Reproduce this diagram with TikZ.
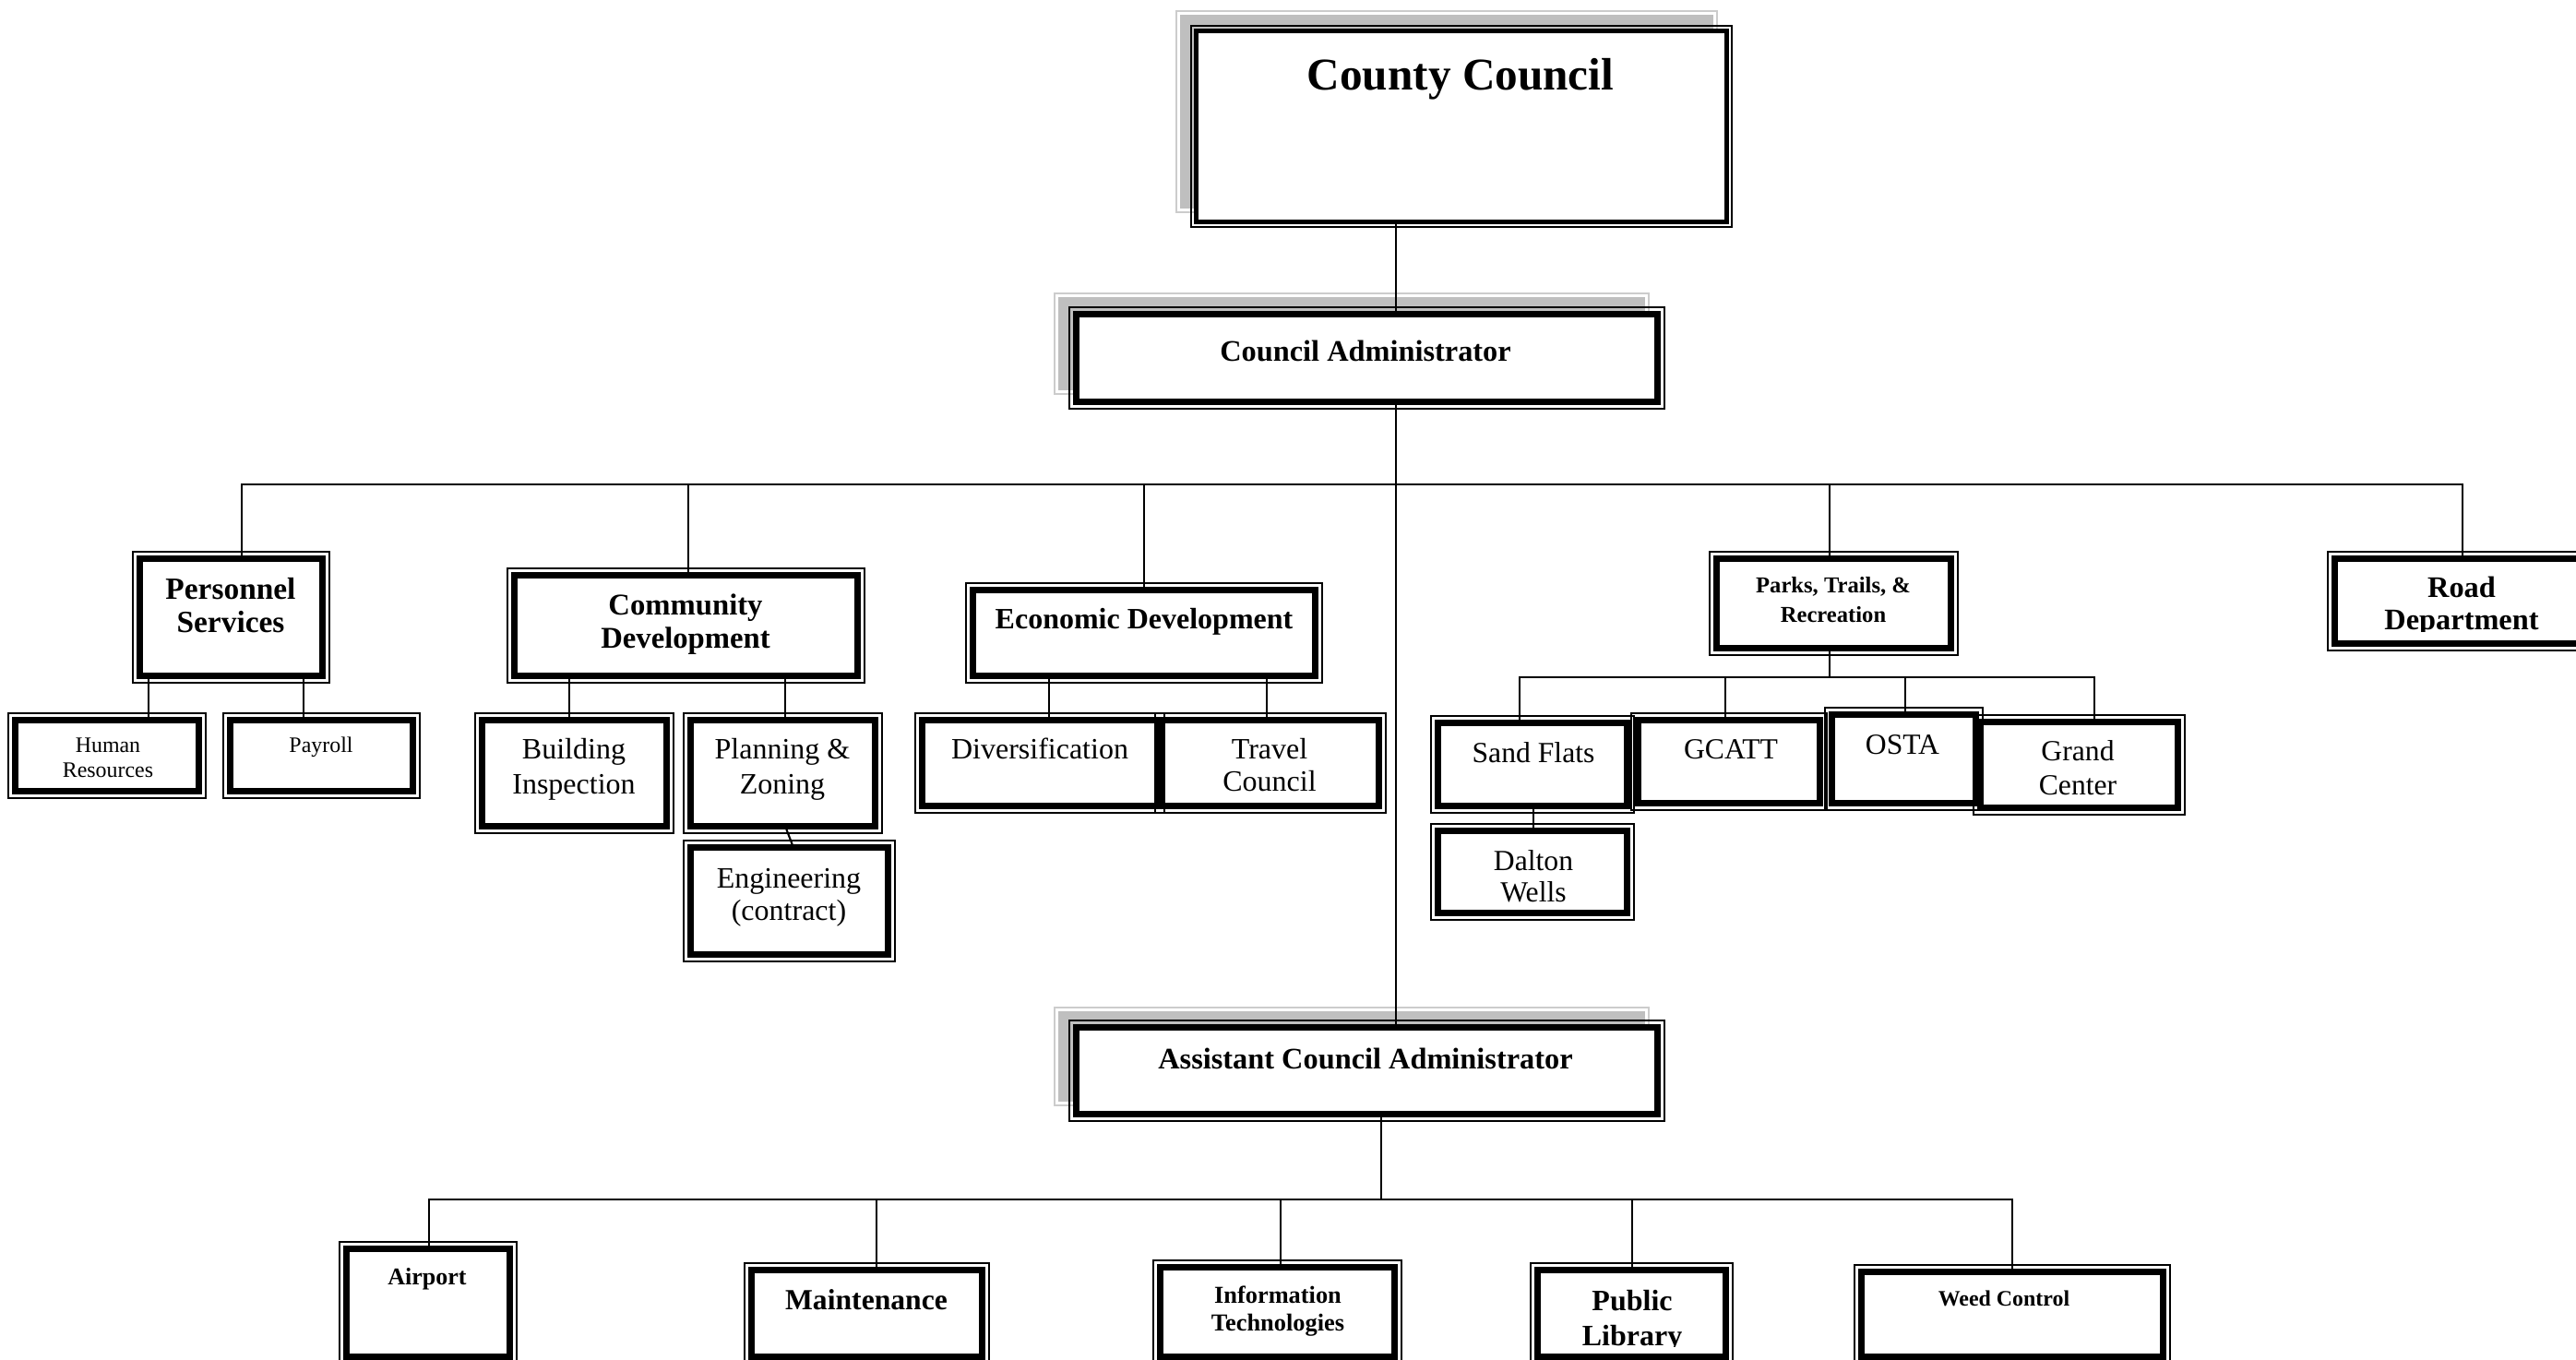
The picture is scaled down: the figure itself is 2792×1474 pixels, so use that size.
\documentclass[tikz,border=0pt]{standalone}
\usepackage{fontspec}
\setmainfont{Liberation Serif}
\usetikzlibrary{fit}
\pgfdeclarelayer{bg}
\pgfdeclarelayer{ln}
\pgfsetlayers{bg,ln,main}
\newcommand\fb[1]{\fontsize{#1}{#1}\bfseries\selectfont}
\newcommand\fr[1]{\fontsize{#1}{#1}\selectfont}
\tikzset{
  box/.style={draw, fill=white, line width=2pt, inner sep=0pt, outer sep=0pt,
    append after command={\pgfextra{\draw[line width=0.45pt]
      ([shift={(-2.2pt,2.2pt)}]\tikzlastnode.north west) rectangle
      ([shift={(2.2pt,-2.2pt)}]\tikzlastnode.south east);}}},
  ccbox/.style={draw, fill=white, line width=1.4pt, inner sep=0pt, outer sep=0pt,
    append after command={\pgfextra{\draw[line width=0.55pt]
      ([shift={(-1.6pt,1.6pt)}]\tikzlastnode.north west) rectangle
      ([shift={(1.6pt,-1.6pt)}]\tikzlastnode.south east);
      \draw[line width=0.55pt]
      ([shift={(2.1pt,-2.1pt)}]\tikzlastnode.north west) rectangle
      ([shift={(-2.1pt,2.1pt)}]\tikzlastnode.south east);}}},
  shadline/.style={draw=black!20, line width=0.5pt, fill=white},
  shadfill/.style={fill=black!25},
  conn/.style={line width=0.6pt},
  lbl/.style={anchor=base, inner sep=0pt}
}
% box: [style] name, outer x1,y1, x2,y2 (px, y downward)
\newcommand\obox[6][box]{\node[#1,fit={([shift={(7.7,7.7)}]#3,#4) ([shift={(-7.7,-7.7)}]#5,#6)}] (#2) {};}
% text line: name, x, baseline y, font, text
\newcommand\tl[5]{\node[lbl,font=#4] (#1) at (#2,#3) {#5};}
\newcommand\shad[4]{%
  \draw[shadline] (#1,#2) rectangle (#3,#4);
  \fill[shadfill] ([shift={(4,4)}]#1,#2) rectangle ([shift={(-4,-4)}]#3,#4);}
\begin{document}
\begin{tikzpicture}[x=0.01cm,y=-0.01cm]
\useasboundingbox (0,0) rectangle (2792,1474);
% background and shadows
\begin{pgfonlayer}{bg}
\fill[white] (0,0) rectangle (2792,1474);
\shad{1275}{12}{1861}{230}
\shad{1143}{318}{1787}{427}
\shad{1143}{1092}{1787}{1198}
\end{pgfonlayer}
% boxes
\node[ccbox,fit={([shift={(6.5,6.5)}]1290,27) ([shift={(-6.5,-6.5)}]1878,247)}] (CC) {};
\obox{CA}{1159}{333}{1804}{443}
\obox{ACA}{1159}{1106}{1804}{1215}
\obox{PS}{144}{598}{357}{740}
\obox{HR}{9}{773}{223}{865}
\obox{PY}{242}{773}{455}{865}
\obox{CD}{550}{616}{937}{740}
\obox{BI}{515}{773}{730}{903}
\obox{PZ}{741}{773}{956}{903}
\obox{EN}{741}{911}{970}{1042}
\obox{ED}{1047}{632}{1433}{740}
\obox{DV}{992}{773}{1262}{881}
\obox{TC}{1252}{773}{1502}{881}
\obox{PT}{1853}{598}{2122}{710}
\obox{SF}{1551}{776}{1771}{881}
\obox{DW}{1551}{893}{1771}{997}
\obox{GC}{1768}{773}{1980}{878}
\obox{OS}{1978}{767}{2149}{878}
\obox{GR}{2139}{775}{2368}{883}
\obox{RD}{2523}{598}{2813}{705}
\obox{AP}{368}{1346}{560}{1478}
\obox{MT}{807}{1369}{1072}{1478}
\obox{IT}{1250}{1366}{1519}{1478}
\obox{PL}{1659}{1369}{1878}{1478}
\obox{WC}{2010}{1371}{2352}{1478}
% connectors
\coordinate (bus1) at (1513,525);
\coordinate (pbus) at (1983,734);
\coordinate (abus) at (1497,1300);
\begin{pgfonlayer}{ln}
\draw[conn] (CC.south -| 1513,0) -- (ACA.north -| 1513,0);
\draw[conn] (PS.north -| 262,0) |- (bus1) -| (RD.north -| 2669,0);
\draw[conn] (bus1 -| 746,0) -- (CD.north -| 746,0);
\draw[conn] (bus1 -| 1240,0) -- (ED.north -| 1240,0);
\draw[conn] (bus1 -| 1983,0) -- (PT.north -| 1983,0);
\draw[conn] (PS.south -| 161,0) -- (HR.north -| 161,0);
\draw[conn] (PS.south -| 329,0) -- (PY.north -| 329,0);
\draw[conn] (CD.south -| 617,0) -- (BI.north -| 617,0);
\draw[conn] (CD.south -| 851,0) -- (PZ.north -| 851,0);
\draw[conn] (PZ.south -| 851,0) -- (EN.north -| 860,0);
\draw[conn] (ED.south -| 1137,0) -- (DV.north -| 1137,0);
\draw[conn] (ED.south -| 1373,0) -- (TC.north -| 1373,0);
\draw[conn] (PT.south -| 1983,0) -- (pbus);
\draw[conn] (SF.north -| 1647,0) |- (pbus) -| (GR.north -| 2270,0);
\draw[conn] (pbus -| 1870,0) -- (GC.north -| 1870,0);
\draw[conn] (pbus -| 2065,0) -- (OS.north -| 2065,0);
\draw[conn] (SF.south -| 1662,0) -- (DW.north -| 1662,0);
\draw[conn] (ACA.south -| 1497,0) -- (abus);
\draw[conn] (AP.north -| 465,0) |- (abus) -| (WC.north -| 2181,0);
\draw[conn] (abus -| 950,0) -- (MT.north -| 950,0);
\draw[conn] (abus -| 1388,0) -- (IT.north -| 1388,0);
\draw[conn] (abus -| 1769,0) -- (PL.north -| 1769,0);
\end{pgfonlayer}
% texts
\tl{tCC}{1583}{98}{\fb{14}}{County Council}
\tl{tCA}{1480}{392}{\fb{9.2}}{Council Administrator}
\tl{tACA}{1480}{1158}{\fb{9.2}}{Assistant Council Administrator}
\tl{tPSa}{250}{650}{\fb{9.5}}{Personnel}
\tl{tPSb}{250}{686}{\fb{9.5}}{Services}
\tl{tHRa}{117}{816}{\fr{6.8}}{Human}
\tl{tHRb}{117}{843}{\fr{6.8}}{Resources}
\tl{tPY}{348}{816}{\fr{6.8}}{Payroll}
\tl{tCDa}{743}{667}{\fb{9.3}}{Community}
\tl{tCDb}{743}{703}{\fb{9.3}}{Development}
\tl{tBIa}{622}{823}{\fr{9.1}}{Building}
\tl{tBIb}{622}{860}{\fr{9.1}}{Inspection}
\tl{tPZa}{848}{823}{\fr{9.1}}{Planning \&}
\tl{tPZb}{848}{860}{\fr{9.1}}{Zoning}
\tl{tENa}{855}{962}{\fr{9.1}}{Engineering}
\tl{tENb}{855}{998}{\fr{9.1}}{(contract)}
\tl{tED}{1240}{682}{\fb{9.1}}{Economic Development}
\tl{tDV}{1127}{823}{\fr{9.1}}{Diversification}
\tl{tTCa}{1376}{823}{\fr{9.1}}{Travel}
\tl{tTCb}{1376}{858}{\fr{9.1}}{Council}
\tl{tPTa}{1987}{643}{\fb{7}}{Parks, Trails, \&}
\tl{tPTb}{1987}{675}{\fb{7}}{Recreation}
\tl{tSF}{1662}{827}{\fr{9}}{Sand Flats}
\tl{tDWa}{1662}{943}{\fr{9}}{Dalton}
\tl{tDWb}{1662}{978}{\fr{9}}{Wells}
\tl{tGC}{1876}{823}{\fr{9}}{GCATT}
\tl{tOS}{2062}{818}{\fr{9}}{OSTA}
\tl{tGRa}{2252}{825}{\fr{9}}{Grand}
\tl{tGRb}{2252}{862}{\fr{9}}{Center}
\tl{tRDa}{2668}{648}{\fb{9.2}}{Road}
\begin{scope}
\clip (2530,600) rectangle (2800,685);
\tl{tRDb}{2668}{683}{\fb{9.2}}{Department}
\end{scope}
\tl{tAP}{463}{1392}{\fb{7.4}}{Airport}
\tl{tMT}{939}{1419}{\fb{9}}{Maintenance}
\tl{tITa}{1385}{1412}{\fb{7.5}}{Information}
\tl{tITb}{1385}{1442}{\fb{7.5}}{Technologies}
\tl{tPLa}{1769}{1420}{\fb{9.1}}{Public}
\begin{scope}
\clip (1665,1430) rectangle (1870,1459);
\tl{tPLb}{1769}{1458}{\fb{9.1}}{Library}
\end{scope}
\tl{tWC}{2172}{1415}{\fb{6.8}}{Weed Control}
\end{tikzpicture}
\end{document}
